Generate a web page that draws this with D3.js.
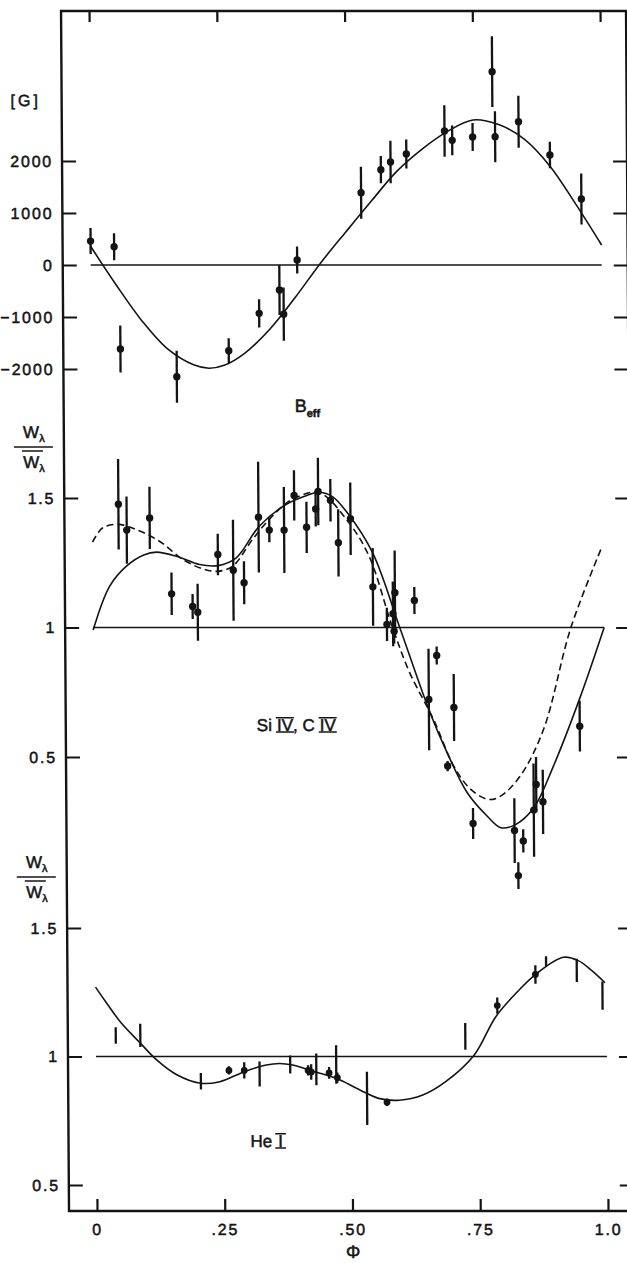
<!DOCTYPE html>
<html>
<head>
<meta charset="utf-8">
<script src="https://cdn.jsdelivr.net/npm/d3@7"></script>
<style>
  html, body { margin: 0; padding: 0; background: #fff; }
  svg { display: block; }
  text { font-family: "Liberation Sans", Arial, Helvetica, sans-serif; fill: #141414; }
</style>
</head>
<body>
<svg id="chart" width="627" height="1263"></svg>
<script>
// ---- phase axis ----
const phaseTicks = [0, 0.25, 0.5, 0.75, 1];
const phaseTickLabels = ["0", ".25", ".50", ".75", "1.0"];

// ---- effective magnetic field B_eff [G] ----
const bTicks = [2000, 1000, 0, -1000, -2000];
const bPhase = [0.0, 0.046, 0.057, 0.167, 0.269, 0.329, 0.369, 0.377, 0.404, 0.530, 0.569,
                0.588, 0.619, 0.694, 0.709, 0.749, 0.788, 0.793, 0.839, 0.900, 0.961];
const bValue = [460, 352, -1615, -2148, -1648, -930, -480, -945, 96, 1390, 1833,
                1980, 2135, 2577, 2397, 2462, 3718, 2468, 2756, 2115, 1270];
const bError = [250, 260, 450, 500, 240, 270, 480, 510, 260, 500, 263,
                408, 280, 494, 285, 270, 680, 490, 500, 256, 490];
const bFitPhase = [0, 0.05, 0.1, 0.15, 0.2, 0.23, 0.26, 0.3, 0.35, 0.4, 0.45, 0.5, 0.55,
                   0.6, 0.65, 0.7, 0.75, 0.8, 0.85, 0.9, 0.95, 1.0];
const bFitValue = [360, -390, -1080, -1620, -1920, -1985, -1930, -1700, -1230, -620, 40, 640, 1230,
                   1800, 2230, 2570, 2790, 2700, 2420, 1900, 1170, 385];

// ---- Si IV, C IV equivalent-width ratio ----
const ratioTicks = [1.5, 1, 0.5];
const siPhase = [0.051, 0.067, 0.112, 0.154, 0.195, 0.205, 0.245, 0.275, 0.296, 0.325, 0.346,
                 0.375, 0.395, 0.419, 0.437, 0.442, 0.466, 0.481, 0.505, 0.548, 0.575, 0.587,
                 0.591, 0.589, 0.629, 0.656, 0.672, 0.692, 0.705, 0.741, 0.822, 0.829, 0.839,
                 0.860, 0.865, 0.878, 0.951];
const siRatio = [1.476, 1.376, 1.423, 1.130, 1.081, 1.059, 1.282, 1.221, 1.173, 1.426, 1.376,
                 1.376, 1.510, 1.387, 1.458, 1.525, 1.491, 1.327, 1.420, 1.157, 1.012, 1.053,
                 1.134, 0.986, 1.104, 0.722, 0.892, 0.465, 0.691, 0.243, 0.216, 0.042, 0.176,
                 0.295, 0.394, 0.327, 0.619];
const siError = [0.175, 0.130, 0.120, 0.082, 0.048, 0.110, 0.080, 0.195, 0.083, 0.214, 0.047,
                 0.166, 0.097, 0.099, 0.068, 0.130, 0.082, 0.130, 0.140, 0.150, 0.064, 0.125,
                 0.163, 0.048, 0.052, 0.196, 0.035, 0.020, 0.129, 0.060, 0.125, 0.052, 0.045,
                 0.180, 0.106, 0.124, 0.098];
const siFitPhase = [0, 0.033, 0.066, 0.1, 0.125, 0.164, 0.209, 0.245, 0.281, 0.326, 0.379, 0.42,
                    0.445, 0.47, 0.5, 0.548, 0.6, 0.658, 0.691, 0.73, 0.769, 0.795, 0.824, 0.86,
                    0.899, 0.953, 1.0];
const siFitRatio = [0.99, 1.16, 1.237, 1.28, 1.291, 1.275, 1.243, 1.239, 1.269, 1.39, 1.475, 1.51,
                    1.522, 1.505, 1.44, 1.288, 1.0, 0.672, 0.517, 0.362, 0.271, 0.227, 0.239, 0.304,
                    0.465, 0.735, 1.0];
const siAltPhase = [0, 0.02, 0.05, 0.086, 0.131, 0.177, 0.216, 0.245, 0.274, 0.313, 0.352, 0.391,
                    0.444, 0.502, 0.541, 0.584, 0.619, 0.665, 0.704, 0.737, 0.772, 0.795, 0.834,
                    0.88, 0.935, 0.996];
const siAltRatio = [1.33, 1.385, 1.398, 1.378, 1.333, 1.262, 1.226, 1.217, 1.237, 1.34, 1.43, 1.494,
                    1.52, 1.404, 1.275, 1.012, 0.825, 0.645, 0.465, 0.375, 0.336, 0.349, 0.427,
                    0.606, 1.0, 1.308];

// ---- He I equivalent-width ratio ----
const heBarPhase = [0.039, 0.087, 0.205, 0.320, 0.380, 0.431, 0.470, 0.530, 0.723, 0.882, 0.942, 0.992];
const heBarRatio = [1.082, 1.082, 0.904, 0.932, 0.969, 0.950, 0.969, 0.837, 1.078, 1.370, 1.335, 1.237];
const heBarError = [0.032, 0.045, 0.032, 0.049, 0.035, 0.062, 0.075, 0.104, 0.052, 0.020, 0.045, 0.055];
const heDotPhase = [0.260, 0.290, 0.415, 0.421, 0.456, 0.472, 0.569, 0.786, 0.861];
const heDotRatio = [0.946, 0.946, 0.946, 0.940, 0.936, 0.918, 0.822, 1.198, 1.319];
const heDotError = [0.016, 0.032, 0.020, 0.030, 0.023, 0.020, 0.015, 0.032, 0.036];
const heFitPhase = [0, 0.018, 0.05, 0.087, 0.117, 0.158, 0.204, 0.242, 0.29, 0.333, 0.359, 0.385,
                    0.421, 0.47, 0.516, 0.555, 0.593, 0.639, 0.684, 0.74, 0.783, 0.828, 0.861,
                    0.916, 0.945, 0.971, 0.997];
const heFitRatio = [1.27, 1.218, 1.13, 1.052, 0.99, 0.929, 0.896, 0.902, 0.941, 0.967, 0.973, 0.967,
                    0.945, 0.915, 0.87, 0.836, 0.83, 0.85, 0.902, 1.005, 1.155, 1.257, 1.319,
                    1.386, 1.373, 1.335, 1.287];

// ---------------------------------------------------------------
const ink = "#141414";
const font = '"Liberation Sans", Arial, sans-serif';
const svg = d3.select("#chart");
const frame = { left: 69, right: 634, top: 11, bottom: 1211 };

// the whole plate leans very slightly
const fig = svg.append("g")
  .attr("transform", `translate(0,${frame.bottom}) skewX(0.38) translate(0,${-frame.bottom})`);

const x = d3.scaleLinear().domain([0, 1]).range([97, 608]);
const yB = d3.scaleLinear().domain([-2000, 2000]).range([369, 161]);
const yS = d3.scaleLinear().domain([0.5, 1.5]).range([757, 498]);
const yH = d3.scaleLinear().domain([0.5, 1.5]).range([1185, 928]);

// frame
fig.append("rect")
  .attr("x", frame.left).attr("y", frame.top)
  .attr("width", frame.right - frame.left).attr("height", frame.bottom - frame.top)
  .attr("fill", "none").attr("stroke", ink).attr("stroke-width", 2.4);

function styleAxis(g) {
  g.select(".domain").remove();
  g.selectAll(".tick line").attr("stroke", ink).attr("stroke-width", 2.2);
  g.selectAll(".tick text")
    .attr("fill", ink)
    .style("font-family", font)
    .style("font-size", "16px")
    .style("letter-spacing", "1.8px")
    .attr("stroke", ink).attr("stroke-width", 0.5);
}

// phase axes (bottom with labels, top ticks only)
fig.append("g")
  .attr("transform", `translate(0,${frame.bottom})`)
  .call(d3.axisBottom(x).tickValues(phaseTicks)
    .tickFormat(d => phaseTickLabels[phaseTicks.indexOf(d)])
    .tickSizeInner(-12).tickSizeOuter(0).tickPadding(13))
  .call(styleAxis);
fig.append("g")
  .attr("transform", `translate(0,${frame.top})`)
  .call(d3.axisTop(x).tickValues(phaseTicks).tickFormat("")
    .tickSizeInner(-11).tickSizeOuter(0))
  .call(styleAxis);

// left (labelled) and right (ticks only) value axes for each panel
[[yB, bTicks, d => d3.format("d")(d)], [yS, ratioTicks, d => String(d)], [yH, ratioTicks, d => String(d)]]
  .forEach(([scale, ticks, fmt]) => {
    fig.append("g")
      .attr("transform", `translate(${frame.left},0)`)
      .call(d3.axisLeft(scale).tickValues(ticks).tickFormat(fmt)
        .tickSizeInner(-14).tickSizeOuter(0).tickPadding(9))
      .call(styleAxis);
    fig.append("g")
      .attr("transform", `translate(${frame.right},0)`)
      .call(d3.axisRight(scale).tickValues(ticks).tickFormat("")
        .tickSizeInner(-14).tickSizeOuter(0))
      .call(styleAxis);
  });

// reference lines
[[yB, 0], [yS, 1], [yH, 1]].forEach(([scale, v]) => {
  fig.append("line")
    .attr("x1", x(0)).attr("x2", x(1))
    .attr("y1", scale(v)).attr("y2", scale(v))
    .attr("stroke", ink).attr("stroke-width", 1.7);
});

// fitted curves
function curve(phases, values, scale, dash) {
  const line = d3.line()
    .x(d => x(d[0])).y(d => scale(d[1]))
    .curve(d3.curveCatmullRom.alpha(0.5));
  fig.append("path")
    .datum(d3.zip(phases, values))
    .attr("d", line)
    .attr("fill", "none").attr("stroke", ink).attr("stroke-width", 1.6)
    .attr("stroke-dasharray", dash || null);
}
curve(bFitPhase, bFitValue, yB);
curve(siFitPhase, siFitRatio, yS);
curve(siAltPhase, siAltRatio, yS, "7,4");
curve(heFitPhase, heFitRatio, yH);

// measurements with error bars
function errorBars(phases, values, errors, scale, withDots, r) {
  const data = d3.zip(phases, values, errors);
  const g = fig.append("g");
  g.selectAll("line").data(data).join("line")
    .attr("x1", d => x(d[0])).attr("x2", d => x(d[0]))
    .attr("y1", d => scale(d[1] - d[2])).attr("y2", d => scale(d[1] + d[2]))
    .attr("stroke", ink).attr("stroke-width", 2.3);
  if (withDots) {
    g.selectAll("circle").data(data).join("circle")
      .attr("cx", d => x(d[0])).attr("cy", d => scale(d[1]))
      .attr("r", r).attr("fill", ink);
  }
}
errorBars(bPhase, bValue, bError, yB, true, 3.7);
errorBars(siPhase, siRatio, siError, yS, true, 3.7);
errorBars(heBarPhase, heBarRatio, heBarError, yH, false);
errorBars(heDotPhase, heDotRatio, heDotError, yH, true, 3.4);

// ---- text ----
function label(xp, yp, str, size, anchor) {
  return fig.append("text")
    .attr("x", xp).attr("y", yp)
    .attr("text-anchor", anchor || "start")
    .style("font-family", font).style("font-size", size + "px")
    .attr("stroke", ink).attr("stroke-width", 0.5)
    .text(str);
}

// unit of the field panel
label(33, 106, "[G]", 16, "middle").style("letter-spacing", "3px");

// B_eff
const beff = label(300, 412, "B", 18);
beff.append("tspan").attr("dy", 5).style("font-size", "11px").style("font-weight", "bold").text("eff");

// W_lambda / mean W_lambda axis titles
function ratioTitle(barY) {
  const cx = 39;
  const num = label(cx, barY - 9, "W", 17, "middle");
  num.append("tspan").attr("dy", 4).style("font-size", "11px").text("λ");
  fig.append("line").attr("x1", 19).attr("x2", 58).attr("y1", barY).attr("y2", barY)
    .attr("stroke", ink).attr("stroke-width", 1.6);
  fig.append("line").attr("x1", 27).attr("x2", 48).attr("y1", barY + 4).attr("y2", barY + 4)
    .attr("stroke", ink).attr("stroke-width", 1.6);
  const den = label(cx, barY + 21, "W", 17, "middle");
  den.append("tspan").attr("dy", 4).style("font-size", "11px").text("λ");
}
ratioTitle(447);
ratioTitle(877);

// ion labels, Roman numerals drawn with bars above and below
function ionLabel(x0, baseline, pieces, size) {
  let xp = x0;
  pieces.forEach(p => {
    const t = label(xp, baseline, p.t, size);
    const w = t.node().getComputedTextLength();
    if (p.roman) {
      const capTop = baseline - size * 0.72 - 1;
      const pad = p.t.length === 1 ? 3 : 1;
      [capTop, baseline + 1].forEach(yy => {
        fig.append("line").attr("x1", xp - pad).attr("x2", xp + w + pad)
          .attr("y1", yy).attr("y2", yy)
          .attr("stroke", ink).attr("stroke-width", 1.6);
      });
    }
    xp += w + (p.gap || 0);
  });
}
ionLabel(260, 731, [{ t: "Si", gap: 5 }, { t: "IV", roman: true }, { t: ", C", gap: 5 }, { t: "IV", roman: true }], 17);
ionLabel(251, 1147, [{ t: "He", gap: 6 }, { t: "I", roman: true }], 17);

// phase symbol
label(353, 1258, "Φ", 18, "middle");
</script>
</body>
</html>
